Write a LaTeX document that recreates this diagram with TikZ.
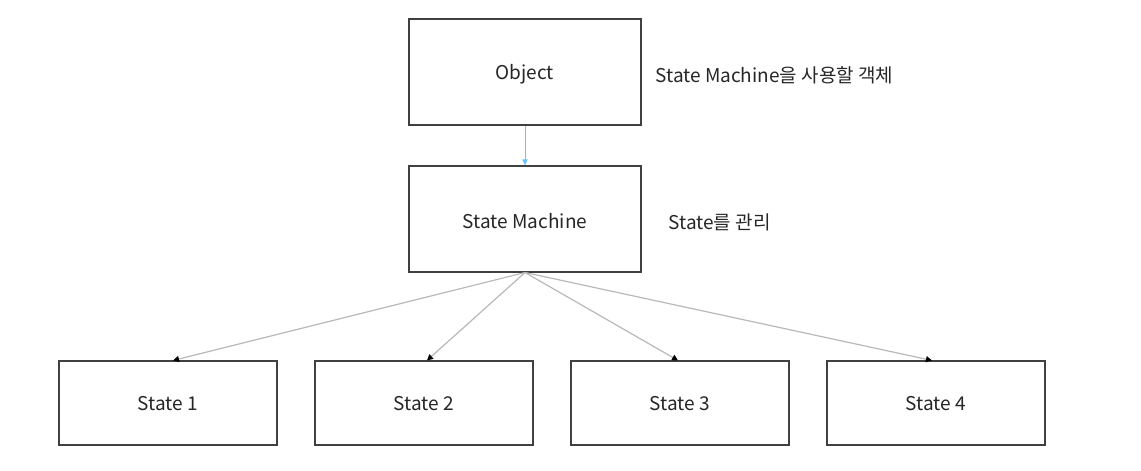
\documentclass[tikz,border=0pt]{standalone}
\usepackage{fontspec}
\setmainfont{Noto Sans CJK KR}
\usetikzlibrary{arrows.meta}
\begin{document}
\begin{tikzpicture}[x=1pt,y=-1pt,
  box/.style={draw=black!75, line width=1.1pt, fill=white},
  lbl/.style={font=\fontsize{19}{22}\selectfont, text=black!85},
  conn/.style={draw=black!28, line width=1.2pt, -{Triangle[length=6pt,width=6pt,fill=black,color=black]}},
  blueconn/.style={draw=blue!40!cyan!60, line width=0.9pt, -{Triangle[length=6pt,width=5pt]}}
]
\useasboundingbox (0,0) rectangle (1141,471);
\node[box, minimum width=232pt, minimum height=106pt] (obj) at (525,72) {};
\node[lbl] at ([yshift=-2pt]obj.center) {Object};
\node[box, minimum width=232pt, minimum height=106pt] (sm) at (525,219) {};
\node[lbl] at ([yshift=-2pt]sm.center) {State Machine};
\node[lbl, anchor=west] (t1) at (652,75) {State Machine을 사용할 객체};
\node[lbl, anchor=west] (t2) at (665,222) {State를 관리};
\node[box, minimum width=218pt, minimum height=84pt] (s1) at (168,403) {};
\node[lbl] at ([yshift=-1pt]s1.center) {State 1};
\node[box, minimum width=218pt, minimum height=84pt] (s2) at (424,403) {};
\node[lbl] at ([yshift=-1pt]s2.center) {State 2};
\node[box, minimum width=218pt, minimum height=84pt] (s3) at (680,403) {};
\node[lbl] at ([yshift=-1pt]s3.center) {State 3};
\node[box, minimum width=218pt, minimum height=84pt] (s4) at (936,403) {};
\node[lbl] at ([yshift=-1pt]s4.center) {State 4};
\coordinate (o) at (525,272.5);
\draw[blueconn] (obj.south) -- (sm.north);
\draw[conn] (o) -- ([xshift=5pt]s1.north);
\draw[conn] (o) -- ([xshift=3pt]s2.north);
\draw[conn] (o) -- ([xshift=-2pt]s3.north);
\draw[conn] (o) -- ([xshift=-4pt]s4.north);
\end{tikzpicture}
\end{document}
